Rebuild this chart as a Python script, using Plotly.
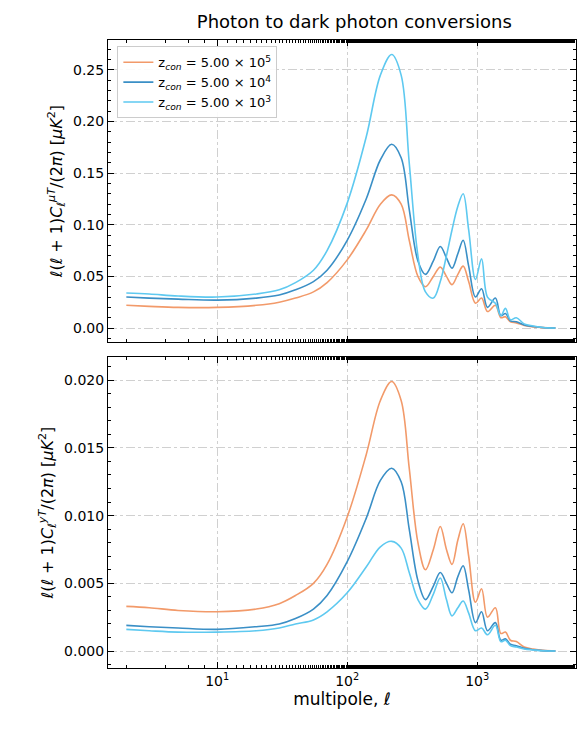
import plotly.graph_objects as go

ell = [2, 3, 5, 10, 20, 30, 40, 55, 70, 100, 140, 180, 220, 260, 300, 350, 400, 460, 520, 580,
       640, 710, 780, 860, 970, 1080, 1200, 1380, 1520, 1650, 1800, 2000, 2300, 2700, 3200, 4000]

labels = ["z<sub><i>con</i></sub> = 5.00 × 10<sup>5</sup>",
          "z<sub><i>con</i></sub> = 5.00 × 10<sup>4</sup>",
          "z<sub><i>con</i></sub> = 5.00 × 10<sup>3</sup>"]

# mu-T cross spectra
mu_5e5 = [0.022, 0.021, 0.020, 0.020, 0.022, 0.025, 0.029, 0.035, 0.044, 0.066, 0.095, 0.120, 0.129, 0.120,
          0.085, 0.050, 0.040, 0.050, 0.059, 0.050, 0.042, 0.052, 0.060, 0.045, 0.024, 0.029, 0.016, 0.022,
          0.010, 0.011, 0.006, 0.005, 0.0025, 0.001, 0.0004, 0.0]
mu_5e4 = [0.030, 0.029, 0.028, 0.027, 0.029, 0.032, 0.037, 0.045, 0.056, 0.085, 0.125, 0.163, 0.178, 0.165,
          0.115, 0.065, 0.052, 0.065, 0.079, 0.068, 0.058, 0.072, 0.085, 0.060, 0.030, 0.038, 0.020, 0.029,
          0.012, 0.014, 0.007, 0.006, 0.003, 0.0015, 0.0005, 0.0]
mu_5e3 = [0.034, 0.033, 0.031, 0.030, 0.033, 0.037, 0.044, 0.056, 0.075, 0.121, 0.185, 0.245, 0.265, 0.245,
          0.160, 0.070, 0.035, 0.029, 0.045, 0.070, 0.095, 0.118, 0.130, 0.095, 0.047, 0.067, 0.030, 0.024,
          0.012, 0.019, 0.008, 0.010, 0.004, 0.002, 0.0005, 0.0]

# y-T cross spectra
y_5e5 = [0.0033, 0.0032, 0.0030, 0.0029, 0.0031, 0.0035, 0.0041, 0.0050, 0.0064, 0.0099, 0.0145, 0.0185,
         0.0199, 0.0185, 0.0135, 0.0080, 0.0060, 0.0075, 0.0092, 0.0075, 0.0064, 0.0082, 0.0094, 0.0070,
         0.0036, 0.0046, 0.0025, 0.0032, 0.0013, 0.0014, 0.0008, 0.0007, 0.0003, 0.00015, 0.00005, 0.0]
y_5e4 = [0.0019, 0.0018, 0.0017, 0.0016, 0.0018, 0.0020, 0.0024, 0.0031, 0.0041, 0.0066, 0.0098, 0.0126,
         0.0135, 0.0125, 0.0090, 0.0052, 0.0038, 0.0048, 0.0058, 0.0050, 0.0043, 0.0055, 0.0063, 0.0045,
         0.0021, 0.0029, 0.0015, 0.0021, 0.0008, 0.0009, 0.0005, 0.0004, 0.0002, 0.0001, 0.00003, 0.0]
y_5e3 = [0.0016, 0.0015, 0.0014, 0.0014, 0.0015, 0.0017, 0.0020, 0.0023, 0.0029, 0.0043, 0.0062, 0.0077,
         0.0081, 0.0076, 0.0058, 0.0038, 0.0031, 0.0042, 0.0054, 0.0038, 0.0026, 0.0032, 0.0037, 0.0028,
         0.0015, 0.0017, 0.0012, 0.0019, 0.0007, 0.0008, 0.0004, 0.0003, 0.00015, 0.00008, 0.00002, 0.0]

decades = [10, 100, 1000]
decade_text = ["10<sup>1</sup>", "10<sup>2</sup>", "10<sup>3</sup>"]

colors = ["#f29a6a", "#3a8fc6", "#5ec9f0"]

fig = go.Figure()
for lab, c, top, bot in zip(labels, colors, [mu_5e5, mu_5e4, mu_5e3], [y_5e5, y_5e4, y_5e3]):
    fig.add_trace(go.Scatter(x=ell, y=top, name=lab, mode="lines", line=dict(color=c, width=1.6, shape="spline"),
                             xaxis="x", yaxis="y"))
    fig.add_trace(go.Scatter(x=ell, y=bot, name=lab, mode="lines", line=dict(color=c, width=1.6, shape="spline"),
                             xaxis="x2", yaxis="y2", showlegend=False))

ax = dict(showline=True, linecolor="black", linewidth=1, mirror="allticks", ticks="inside",
          ticklen=6, tickcolor="black", showgrid=True, gridcolor="#d0d0d0", griddash="dashdot",
          zeroline=False, tickfont=dict(size=14, color="black"))
xr = [0.16, 3.76]
xminor = dict(ticks="inside", ticklen=3, tickcolor="black", showgrid=False)
fig.update_layout(
    width=587, height=731, plot_bgcolor="white", paper_bgcolor="white",
    margin=dict(l=100, r=19, t=32, b=71),
    font=dict(family="DejaVu Sans", color="black"),
    title=dict(text="Photon to dark photon conversions", x=0.59, xanchor="center", y=0.99,
               font=dict(size=18)),
    xaxis=dict(ax, type="log", range=xr, domain=[0, 1], anchor="y", showticklabels=False,
               tickvals=decades, minor=xminor),
    xaxis2=dict(ax, type="log", range=xr, domain=[0, 1], anchor="y2", tickvals=decades, ticktext=decade_text,
                minor=xminor,
                title=dict(text="multipole, <i>ℓ</i>", font=dict(size=17), standoff=4)),
    yaxis=dict(ax, domain=[0.519, 1], range=[-0.0136, 0.279], tickformat=".2f", dtick=0.05,
               minor=dict(ticks="inside", ticklen=3, tickcolor="black", dtick=0.01, showgrid=False),
               title=dict(text="<i>ℓ</i>(<i>ℓ</i> + 1)<i>C</i><sub><i>ℓ</i></sub><sup><i>μT</i></sup>/(2<i>π</i>) [<i>μK</i><sup>2</sup>]",
                          font=dict(size=16), standoff=6)),
    yaxis2=dict(ax, domain=[0, 0.495], range=[-0.00125, 0.0217], tickformat=".3f", dtick=0.005,
                minor=dict(ticks="inside", ticklen=3, tickcolor="black", dtick=0.001, showgrid=False),
                title=dict(text="<i>ℓ</i>(<i>ℓ</i> + 1)<i>C</i><sub><i>ℓ</i></sub><sup><i>yT</i></sup>/(2<i>π</i>) [<i>μK</i><sup>2</sup>]",
                           font=dict(size=16), standoff=6)),
    legend=dict(x=0.02, y=0.99, xanchor="left", yanchor="top", bgcolor="rgba(255,255,255,0.9)",
                bordercolor="#cccccc", borderwidth=1, font=dict(size=13)),
)

fig.write_html("out.html")
